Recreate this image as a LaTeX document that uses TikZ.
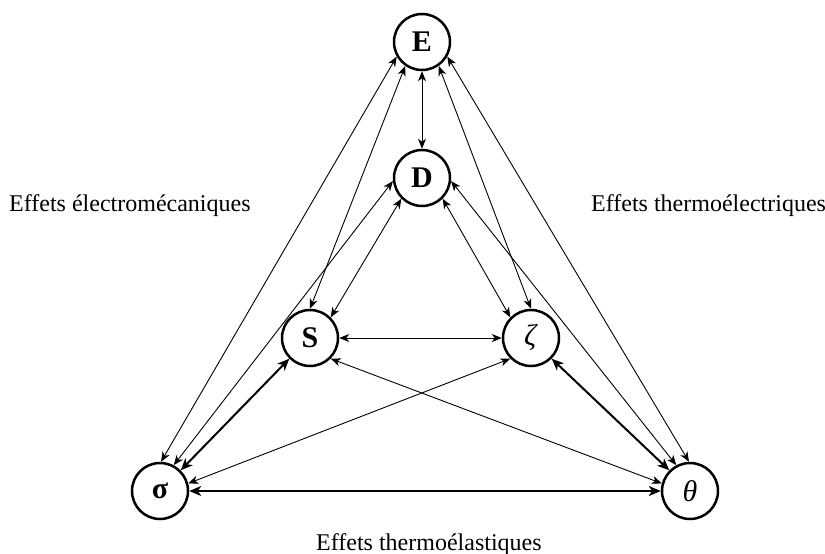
\documentclass[tikz,border=0pt]{standalone}
\usepackage{fontspec}
\setmainfont{Liberation Serif}
\usetikzlibrary{arrows.meta}
\begin{document}
\begin{tikzpicture}[x=1pt,y=-1pt,
  st/.style={circle, draw, line width=2.5pt, minimum size=56pt, inner sep=0pt, font=\fontsize{30}{32}\selectfont},
  lnk/.style={line width=0.9pt, {Stealth[length=10pt,width=8pt,inset=3pt]}-{Stealth[length=10pt,width=8pt,inset=3pt]}},
  lnkb/.style={line width=2pt, {Stealth[length=12pt,width=10pt,inset=3.5pt]}-{Stealth[length=12pt,width=10pt,inset=3.5pt]}},
  lbl/.style={anchor=base west, inner sep=0pt, font=\fontsize{24}{26}\selectfont}
]
\useasboundingbox (0,0) rectangle (825,554);
\node[st] (E) at (422,42) {\textbf{E}};
\node[st] (D) at (422,178) {\textbf{D}};
\node[st] (S) at (310,338) {\textbf{S}};
\node[st] (Z) at (531,338) {\textit{ζ}};
\node[st] (Sg) at (160,491) {\textbf{σ}};
\node[st] (T) at (690,491) {\textit{θ}};

\draw[lnk] (E.270) -- (D.90);
\draw[lnk] (E.235) -- (S.90);
\draw[lnk] (E.305) -- (Z.90);
\draw[lnk] (E.210) -- (Sg.88);
\draw[lnk] (E.330) -- (T.92);
\draw[lnk] (D.225) -- (S.45);
\draw[lnk] (D.315) -- (Z.135);
\draw[lnk] (D.186) -- (Sg.62);
\draw[lnk] (D.354) -- (T.118);
\draw[lnk] (S.0) -- (Z.180);
\draw[lnk] (S.-45) -- (T.165);
\draw[lnk] (Z.225) -- (Sg.15);
\draw[lnkb] (S.225) -- (Sg.45);
\draw[lnkb] (Z.-45) -- (T.135);
\draw[lnkb] (Sg.0) -- (T.180);

\node[lbl] (l1) at (9,211) {Effets électromécaniques};
\node[lbl] (l2) at (591,211) {Effets thermoélectriques};
\node[lbl] (l3) at (316,550) {Effets thermoélastiques};
\end{tikzpicture}
\end{document}
